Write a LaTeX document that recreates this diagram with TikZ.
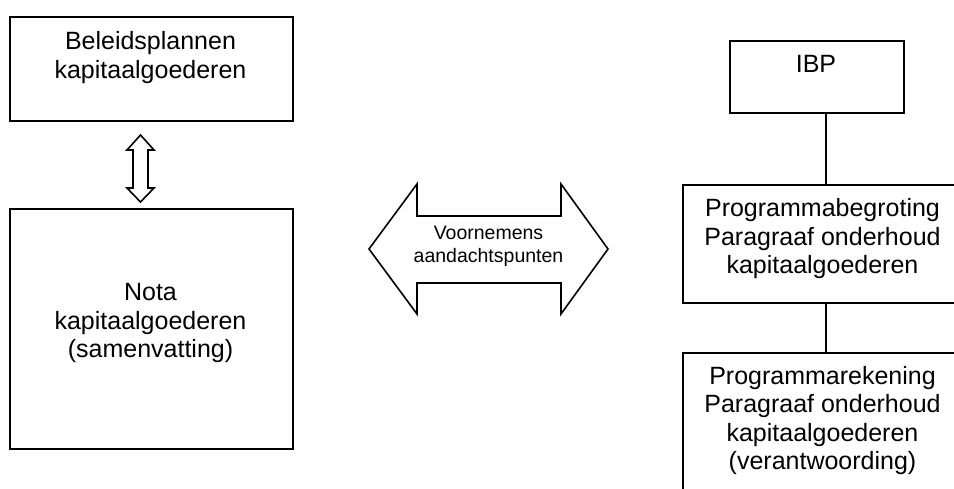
\documentclass[tikz,border=0pt]{standalone}
\usepackage{fontspec}
\setmainfont{Liberation Sans}
\begin{document}
\begin{tikzpicture}[x=1pt,y=-1pt,
  box/.style={draw, line width=1.6pt, rectangle, inner sep=0pt, anchor=north west},
  lbl/.style={font=\fontsize{25}{28.4}\selectfont, align=center, inner sep=0pt},
  slbl/.style={font=\fontsize{19.5}{23}\selectfont, align=center, inner sep=0pt},
  conn/.style={line width=1.6pt},
  fatarrow/.style={draw, line width=1.6pt, line join=miter, fill=white}]
\useasboundingbox (0,0) rectangle (954,489);
\clip (0,0) rectangle (954,489);
% boxes
\node[box, minimum width=283pt, minimum height=104pt] (bp) at (9,16) {};
\node[box, minimum width=283pt, minimum height=240pt] (nota) at (9,208) {};
\node[box, minimum width=174pt, minimum height=72pt] (ibp) at (729,40) {};
\node[box, minimum width=281pt, minimum height=118pt] (pb) at (682,184) {};
\node[box, minimum width=281pt, minimum height=150pt] (pr) at (682,352) {};
% texts
\node[lbl] (tbp) at (150.5,57.7) {Beleidsplannen\\kapitaalgoederen};
\node[lbl] (tnota) at (150.5,323.3) {Nota\\kapitaalgoederen\\(samenvatting)};
\node[lbl] (tibp) at (816,64.2) {IBP};
\node[lbl] (tpb) at (822.5,238.7) {Programmabegroting\\Paragraaf onderhoud\\kapitaalgoederen};
\node[lbl] (tpr) at (822.5,420.7) {Programmarekening\\Paragraaf onderhoud\\kapitaalgoederen\\(verantwoording)};
% connectors
\coordinate (cx) at (826,0);
\draw[conn] (ibp.south -| cx) -- (pb.north -| cx);
\draw[conn] (pb.south -| cx) -- (pr.north -| cx);
% small vertical double arrow
\draw[fatarrow] (140.5,135) -- (154,150) -- (148,150) -- (148,188) -- (154,188) -- (140.5,202)
  -- (127,188) -- (133,188) -- (133,150) -- (127,150) -- cycle;
% big horizontal double arrow
\draw[fatarrow] (369,249) -- (417,184) -- (417,216) -- (561,216) -- (561,184) -- (608,249)
  -- (561,314) -- (561,283) -- (417,283) -- (417,314) -- cycle;
\node[slbl] (tv) at (488.5,246.5) {Voornemens\\aandachtspunten};
\end{tikzpicture}
\end{document}
